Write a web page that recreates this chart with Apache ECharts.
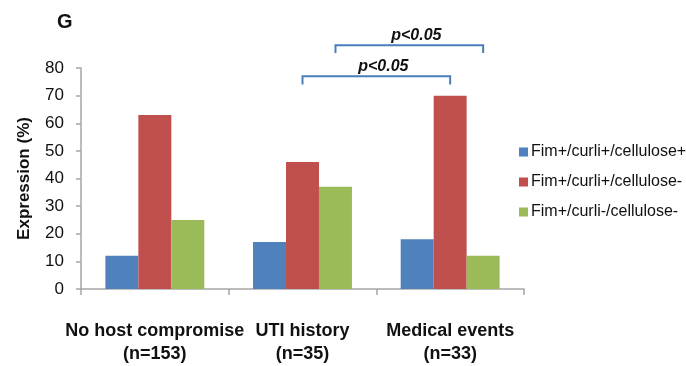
<!DOCTYPE html>
<html>
<head>
<meta charset="utf-8">
<script src="https://cdn.jsdelivr.net/npm/echarts@6/dist/echarts.min.js"></script>
<style>
html,body{margin:0;padding:0;background:#fff;}
#c{width:686px;height:366px;}
</style>
</head>
<body>
<div id="c"></div>
<script>
const categories = ['No host compromise\n(n=153)', 'UTI history\n(n=35)', 'Medical events\n(n=33)'];
const seriesNames = ['Fim+/curli+/cellulose+', 'Fim+/curli+/cellulose-', 'Fim+/curli-/cellulose-'];
const valsFimCurliCellPos = [12, 17, 18];
const valsFimCurliPosCellNeg = [63, 46, 70];
const valsFimCurliNegCellNeg = [25, 37, 12];
const yTicks = [0, 10, 20, 30, 40, 50, 60, 70, 80];
// brackets: [fromCategory, fromSeries, toCategory, toSeries, lineValue, endValue]
const bracketLower = [1, 1, 2, 1, 77, 74];
const bracketUpper = [1, 2, 2, 2, 88.2, 85.4];
const bracketLabels = ['p<0.05', 'p<0.05'];

const colors = ['#4F81BD', '#C0504D', '#9BBB59'];
const CAT_GAP = 0.33;

const chart = echarts.init(document.getElementById('c'), null, {renderer: 'canvas'});

function renderBracket(params, api) {
  const fc = api.value(0), fs = api.value(1), tc = api.value(2), ts = api.value(3);
  const yl = api.value(4), ye = api.value(5);
  const band = api.size([1, 0])[0];
  const barW = band * (1 - CAT_GAP) / 3;
  const p1 = api.coord([fc, yl]);
  const p2 = api.coord([tc, yl]);
  const e1 = api.coord([fc, ye]);
  const x1 = p1[0] + (fs - 1) * barW;
  const x2 = p2[0] + (ts - 1) * barW;
  const yLine = p1[1], yEnd = e1[1];
  return {
    type: 'group',
    children: [
      {
        type: 'polyline',
        shape: {points: [[x1, yEnd], [x1, yLine], [x2, yLine], [x2, yEnd]]},
        style: {stroke: '#4A7EBB', lineWidth: 2, fill: null}
      },
      {
        type: 'text',
        style: {
          text: bracketLabels[params.dataIndex],
          x: (x1 + x2) / 2 + 7,
          y: yLine - 10,
          align: 'center',
          verticalAlign: 'middle',
          font: 'italic bold 16px "Liberation Sans", Arial, sans-serif',
          fill: '#111'
        }
      }
    ]
  };
}

const font = '"Liberation Sans", Arial, Helvetica, sans-serif';

chart.setOption({
  animation: false,
  textStyle: {fontFamily: font},
  title: {
    text: 'G', left: 52, top: 7,
    textStyle: {fontSize: 20, fontWeight: 'bold', color: '#111', fontFamily: font}
  },
  grid: {left: 81, right: 162, top: 68, bottom: 75, containLabel: false},
  legend: {
    orient: 'vertical', left: 514, top: 139,
    itemWidth: 9, itemHeight: 9, itemGap: 14,
    icon: 'rect',
    data: seriesNames,
    textStyle: {fontSize: 16, color: '#111', fontFamily: font, lineHeight: 16, padding: [0, 0, 0, -2]}
  },
  xAxis: {
    type: 'category',
    data: categories,
    axisLine: {lineStyle: {color: '#A6A6A6', width: 1.5}},
    axisTick: {show: true, length: 6, lineStyle: {color: '#A6A6A6', width: 1.5}},
    axisLabel: {
      fontSize: 18, fontWeight: 'bold', color: '#111', margin: 31, lineHeight: 23,
      fontFamily: font, interval: 0
    }
  },
  yAxis: {
    type: 'value', min: 0, max: 80, interval: 10,
    name: 'Expression (%)', nameLocation: 'middle', nameGap: 48, nameRotate: 90,
    nameTextStyle: {fontSize: 17, fontWeight: 'bold', color: '#111', fontFamily: font},
    axisLine: {show: true, lineStyle: {color: '#A6A6A6', width: 1.5}},
    axisTick: {show: true, length: 5, lineStyle: {color: '#A6A6A6', width: 1.5}},
    splitLine: {show: false},
    axisLabel: {
      fontSize: 17, color: '#111', margin: 17, fontFamily: font,
      formatter: v => yTicks.indexOf(v) >= 0 ? String(v) : ''
    }
  },
  series: [
    {name: seriesNames[0], type: 'bar', data: valsFimCurliCellPos, itemStyle: {color: colors[0]}, barGap: '0%', barCategoryGap: (CAT_GAP * 100) + '%'},
    {name: seriesNames[1], type: 'bar', data: valsFimCurliPosCellNeg, itemStyle: {color: colors[1]}, barGap: '0%', barCategoryGap: (CAT_GAP * 100) + '%'},
    {name: seriesNames[2], type: 'bar', data: valsFimCurliNegCellNeg, itemStyle: {color: colors[2]}, barGap: '0%', barCategoryGap: (CAT_GAP * 100) + '%'},
    {
      name: 'significance', type: 'custom', coordinateSystem: 'cartesian2d',
      renderItem: renderBracket, clip: false, z: 10, silent: true,
      encode: {x: 0, y: 4},
      data: [bracketLower, bracketUpper]
    }
  ]
});
</script>
</body>
</html>
